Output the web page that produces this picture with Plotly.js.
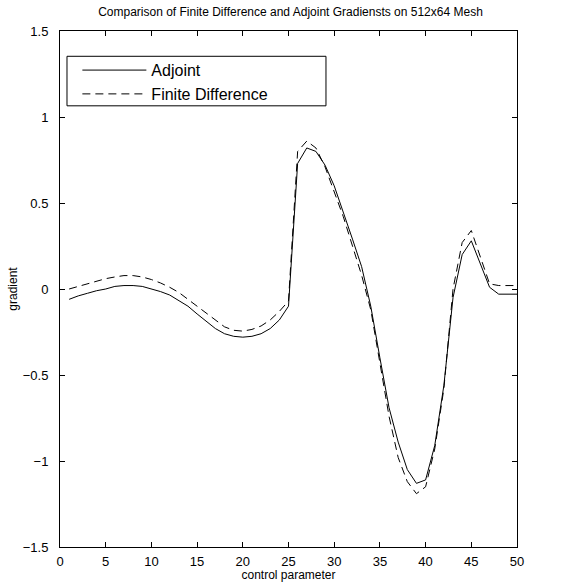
<!DOCTYPE html>
<html>
<head>
<meta charset="utf-8">
<script src="https://cdn.plot.ly/plotly-3.0.1.min.js"></script>
<style>html,body{margin:0;padding:0;background:#fff;}#chart{width:581px;height:582px;}</style>
</head>
<body>
<div id="chart"></div>
<script>
const controlParam = [1,2,3,4,5,6,7,8,9,10,11,12,13,14,15,16,17,18,19,20,21,22,23,24,25,26,27,28,29,30,31,32,33,34,35,36,37,38,39,40,41,42,43,44,45,46,47,48,49,50];
const adjoint = [-0.06,-0.04,-0.025,-0.01,0.0,0.015,0.02,0.02,0.015,0.0,-0.015,-0.035,-0.065,-0.1,-0.145,-0.19,-0.23,-0.26,-0.275,-0.28,-0.275,-0.26,-0.23,-0.18,-0.1,0.73,0.82,0.80,0.72,0.60,0.45,0.29,0.13,-0.1,-0.4,-0.69,-0.89,-1.05,-1.13,-1.11,-0.91,-0.56,-0.05,0.2,0.28,0.14,0.01,-0.03,-0.03,-0.03];
const finiteDiff = [0.0,0.015,0.03,0.045,0.06,0.07,0.078,0.078,0.07,0.055,0.035,0.01,-0.02,-0.06,-0.1,-0.145,-0.185,-0.22,-0.24,-0.245,-0.235,-0.215,-0.18,-0.13,-0.07,0.80,0.86,0.82,0.71,0.57,0.42,0.25,0.08,-0.12,-0.43,-0.74,-0.98,-1.12,-1.19,-1.15,-0.93,-0.58,0.0,0.27,0.34,0.19,0.03,0.02,0.02,0.02];
const seriesNames = ["Adjoint", "Finite Difference"];
const xTicks = [0,5,10,15,20,25,30,35,40,45,50];
const yTicks = [-1.5,-1,-0.5,0,0.5,1,1.5];
const yTickText = ["\u22121.5","\u22121","\u22120.5","0","0.5","1","1.5"];

const font = {family: "Liberation Sans, Arial, sans-serif", size: 13, color: "#000"};

const traces = [
  {x: controlParam, y: adjoint, name: seriesNames[0], type: "scatter", mode: "lines",
   line: {color: "#000", width: 1}},
  {x: controlParam, y: finiteDiff, name: seriesNames[1], type: "scatter", mode: "lines",
   line: {color: "#000", width: 1, dash: "8px,5px"}}
];

const axisCommon = {
  showgrid: false, zeroline: false, showline: true, linecolor: "#000", linewidth: 1,
  mirror: "ticks", ticks: "inside", ticklen: 5, tickcolor: "#000", tickwidth: 1,
  tickfont: font
};

const layout = {
  width: 581, height: 582,
  paper_bgcolor: "#fff", plot_bgcolor: "#fff",
  margin: {l: 60, r: 64, t: 31, b: 35},
  font: font,
  title: {text: "Comparison of Finite Difference and Adjoint Gradiensts on 512x64 Mesh",
          font: {family: font.family, size: 12, color: "#000"}, x: 0.5, xanchor: "center",
          y: 1, yref: "container", yanchor: "top", pad: {t: 8}},
  xaxis: Object.assign({}, axisCommon, {range: [0, 50], tickvals: xTicks, ticktext: xTicks.map(String),
          ticklabelstandoff: 2,
          title: {text: "control parameter", font: {family: font.family, size: 12, color: "#000"}, standoff: 1}}),
  yaxis: Object.assign({}, axisCommon, {range: [-1.5, 1.5], tickvals: yTicks, ticktext: yTickText,
          ticklabelstandoff: 8,
          title: {text: "gradient", font: {family: font.family, size: 12, color: "#000"}, standoff: 2}}),
  showlegend: true,
  legend: {x: 0.038, y: 0.957, xanchor: "left", yanchor: "top", bgcolor: "rgba(0,0,0,0)",
           borderwidth: 0, font: {family: font.family, size: 16, color: "#000"},
           itemwidth: 64, tracegroupgap: 0},
  shapes: [{type: "rect", xref: "paper", yref: "paper", x0: 0.0153, x1: 0.582, y0: 0.855, y1: 0.951,
            line: {color: "#000", width: 1}, fillcolor: "rgba(0,0,0,0)"}]
};

Plotly.newPlot("chart", traces, layout, {displayModeBar: false, staticPlot: true});
</script>
</body>
</html>
